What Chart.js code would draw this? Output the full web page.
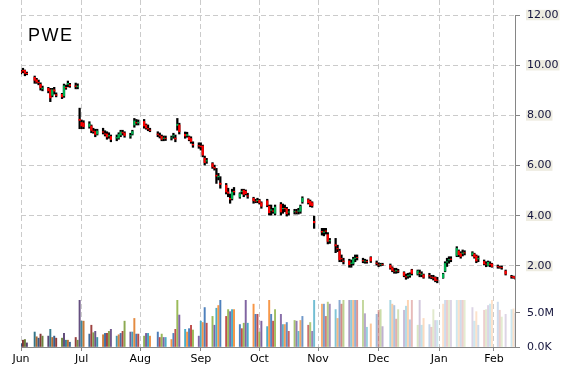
<!DOCTYPE html>
<html>
<head>
<meta charset="utf-8">
<script src="https://cdn.jsdelivr.net/npm/chart.js@4.4.0/dist/chart.umd.min.js"></script>
<style>
  html, body { margin: 0; padding: 0; background: #fff; }
</style>
</head>
<body>
<canvas id="stockChart" width="570" height="370"></canvas>
<script>
const ticker = 'PWE';

// month gridlines (day offsets from the first one)
const monthLabels = ['Jun', 'Jul', 'Aug', 'Sep', 'Oct', 'Nov', 'Dec', 'Jan', 'Feb'];
const monthDays = [0, 31, 61, 92, 122, 152, 183, 214, 242];

// trading days, one row per week
const days = [
    0, 1, 2, 3,
    7, 8, 9, 10, 11,
    14, 15, 16, 17, 18,
    21, 22, 23, 24, 25,
    28, 29, 30, 31, 32,
    35, 36, 37, 38, 39,
    42, 43, 44, 45, 46,
    49, 50, 51, 52, 53,
    56, 57, 58, 59, 60,
    63, 64, 65, 66,
    70, 71, 72, 73, 74,
    77, 78, 79, 80, 81,
    84, 85, 86, 87, 88,
    91, 92, 93, 94, 95,
    98, 99, 100, 101, 102,
    105, 106, 107, 108, 109,
    112, 113, 114, 115, 116,
    119, 120, 121, 122, 123,
    126, 127, 128, 129, 130,
    133, 134, 135, 136, 137,
    140, 141, 142, 143, 144,
    147, 148, 149, 150,
    154, 155, 156, 157, 158,
    161, 162, 163, 164, 165,
    168, 169, 170, 171, 172,
    175, 176, 177, 179,
    182, 183, 184, 185,
    189, 190, 191, 192, 193,
    196, 197, 198, 199, 200,
    203, 204, 205, 206,
    209, 210, 211, 212, 213,
    216, 217, 218, 219, 220,
    223, 224, 225, 226, 227,
    231, 232, 233, 234,
    237, 238, 239, 240, 241,
    244, 245, 246, 248,
    251, 252, 253
];

const open = [
    9.75, 9.80, 9.79, 9.68,
    9.52, 9.42, 9.32, 9.24, 9.06,
    9.08, 9.02, 8.80, 9.02, 8.83,
    8.84, 8.78, 9.12, 9.24, 9.22,
    9.18, 9.14, 7.85, 7.72, 7.70,
    7.56, 7.58, 7.38, 7.36, 7.26,
    7.35, 7.27, 7.26, 7.18, 7.16,
    7.10, 7.10, 7.22, 7.32, 7.30,
    7.18, 7.26, 7.62, 7.72, 7.70,
    7.76, 7.62, 7.48, 7.42,
    7.26, 7.20, 7.16, 7.08, 7.09,
    7.10, 7.18, 7.10, 7.60, 7.62,
    7.25, 7.20, 7.14, 7.08, 6.85,
    6.80, 6.78, 6.78, 6.30, 6.18,
    6.08, 5.93, 5.62, 5.55, 5.30,
    5.22, 4.95, 4.70, 4.68, 4.98,
    4.75, 4.96, 5.02, 4.98, 4.80,
    4.70, 4.59, 4.60, 4.62, 4.52,
    4.60, 4.38, 4.22, 4.20, 4.10,
    4.45, 4.28, 4.30, 4.28, 4.14,
    4.16, 4.16, 4.18, 4.18, 4.56,
    4.64, 4.58, 4.52, 3.78,
    3.38, 3.34, 3.40, 3.25, 3.00,
    2.85, 2.70, 2.60, 2.30, 2.20,
    2.20, 2.10, 2.10, 2.30, 2.34,
    2.22, 2.19, 2.18, 2.34,
    2.12, 2.05, 2.05, 2.06,
    2.03, 1.93, 1.80, 1.80, 1.80,
    1.74, 1.58, 1.60, 1.63, 1.84,
    1.68, 1.72, 1.66, 1.65,
    1.62, 1.56, 1.54, 1.54, 1.44,
    1.53, 1.80, 2.15, 2.24, 2.28,
    2.42, 2.60, 2.50, 2.50, 2.53,
    2.45, 2.48, 2.40, 2.28,
    2.18, 2.08, 2.02, 2.08, 2.08,
    1.98, 1.96, 1.94, 1.80,
    1.58, 1.58, 1.56
];

const high = [
    9.81, 9.88, 9.81, 9.73,
    9.57, 9.48, 9.41, 9.30, 9.17,
    9.12, 9.08, 9.08, 9.12, 8.90,
    8.88, 9.25, 9.21, 9.37, 9.28,
    9.29, 9.26, 8.29, 7.82, 7.79,
    7.75, 7.62, 7.49, 7.45, 7.45,
    7.49, 7.39, 7.35, 7.31, 7.22,
    7.22, 7.31, 7.41, 7.41, 7.35,
    7.29, 7.41, 7.88, 7.84, 7.82,
    7.84, 7.66, 7.62, 7.49,
    7.35, 7.30, 7.22, 7.18, 7.18,
    7.18, 7.29, 7.22, 7.88, 7.69,
    7.34, 7.33, 7.18, 7.15, 6.95,
    6.91, 6.91, 6.82, 6.38, 6.29,
    6.12, 6.02, 5.89, 5.69, 5.56,
    5.29, 5.10, 4.87, 5.06, 5.13,
    4.92, 5.06, 5.06, 5.03, 4.90,
    4.74, 4.66, 4.70, 4.66, 4.56,
    4.66, 4.43, 4.43, 4.30, 4.43,
    4.53, 4.47, 4.43, 4.34, 4.26,
    4.26, 4.26, 4.30, 4.43, 4.76,
    4.68, 4.63, 4.56, 3.99,
    3.50, 3.50, 3.50, 3.33, 3.10,
    3.10, 2.83, 2.67, 2.44, 2.31,
    2.27, 2.24, 2.35, 2.44, 2.44,
    2.31, 2.27, 2.24, 2.37,
    2.20, 2.13, 2.11, 2.11,
    2.08, 1.97, 1.91, 1.91, 1.87,
    1.77, 1.68, 1.71, 1.73, 1.87,
    1.84, 1.84, 1.77, 1.68,
    1.71, 1.63, 1.63, 1.57, 1.55,
    1.71, 2.17, 2.31, 2.37, 2.37,
    2.77, 2.64, 2.57, 2.64, 2.61,
    2.57, 2.51, 2.44, 2.40,
    2.24, 2.17, 2.20, 2.17, 2.11,
    2.04, 2.00, 2.00, 1.84,
    1.63, 1.60, 1.57
];

const low = [
    9.65, 9.70, 9.58, 9.62,
    9.28, 9.28, 9.22, 9.01, 8.98,
    8.90, 8.55, 8.74, 8.85, 8.74,
    8.67, 8.72, 9.04, 9.14, 9.12,
    9.06, 9.06, 7.47, 7.47, 7.47,
    7.49, 7.31, 7.29, 7.15, 7.22,
    7.26, 7.18, 7.05, 7.09, 6.95,
    6.99, 7.05, 7.15, 7.22, 7.13,
    7.09, 7.22, 7.53, 7.62, 7.62,
    7.49, 7.45, 7.39, 7.35,
    7.15, 7.10, 6.99, 6.99, 7.00,
    7.02, 7.09, 6.95, 7.41, 7.26,
    7.09, 7.13, 6.99, 6.89, 6.73,
    6.69, 6.62, 6.35, 6.02, 6.09,
    5.89, 5.82, 5.29, 5.43, 5.10,
    4.87, 4.76, 4.50, 4.63, 4.83,
    4.70, 4.87, 4.76, 4.83, 4.70,
    4.50, 4.52, 4.52, 4.47, 4.30,
    4.36, 4.03, 4.03, 4.10, 4.03,
    4.03, 4.10, 4.16, 3.99, 4.03,
    4.07, 4.07, 4.07, 4.10, 4.50,
    4.47, 4.36, 4.34, 3.50,
    3.23, 3.20, 3.27, 2.88, 2.90,
    2.53, 2.57, 2.17, 2.17, 2.08,
    1.95, 1.95, 2.04, 2.17, 2.24,
    2.13, 2.11, 2.11, 2.14,
    2.04, 1.97, 2.00, 2.02,
    1.87, 1.77, 1.71, 1.71, 1.73,
    1.57, 1.47, 1.51, 1.55, 1.64,
    1.64, 1.57, 1.57, 1.51,
    1.51, 1.49, 1.44, 1.37, 1.33,
    1.51, 1.77, 1.98, 2.11, 2.17,
    2.37, 2.37, 2.31, 2.40, 2.44,
    2.40, 2.31, 2.13, 2.17,
    2.04, 1.97, 2.00, 1.97, 1.95,
    1.91, 1.91, 1.87, 1.64,
    1.51, 1.51, 1.48
];

const close = [
    9.71, 9.77, 9.68, 9.66,
    9.40, 9.33, 9.30, 9.10, 9.09,
    8.98, 8.70, 9.02, 8.97, 8.80,
    8.74, 9.18, 9.10, 9.28, 9.18,
    9.15, 9.17, 7.80, 7.58, 7.55,
    7.66, 7.40, 7.36, 7.24, 7.38,
    7.33, 7.25, 7.14, 7.20, 7.04,
    7.12, 7.24, 7.34, 7.30, 7.20,
    7.20, 7.36, 7.78, 7.70, 7.73,
    7.58, 7.50, 7.46, 7.40,
    7.24, 7.18, 7.05, 7.10, 7.08,
    7.11, 7.20, 7.06, 7.65, 7.35,
    7.18, 7.24, 7.03, 6.96, 6.82,
    6.78, 6.75, 6.42, 6.12, 6.20,
    5.95, 5.90, 5.58, 5.58, 5.25,
    4.95, 4.90, 4.66, 4.95, 4.95,
    4.88, 4.98, 4.85, 4.88, 4.78,
    4.60, 4.58, 4.62, 4.52, 4.38,
    4.42, 4.12, 4.24, 4.18, 4.35,
    4.15, 4.30, 4.28, 4.08, 4.16,
    4.17, 4.15, 4.20, 4.38, 4.70,
    4.52, 4.42, 4.40, 3.72,
    3.35, 3.36, 3.38, 2.98, 3.02,
    2.80, 2.68, 2.25, 2.28, 2.18,
    2.05, 2.12, 2.28, 2.32, 2.33,
    2.20, 2.20, 2.17, 2.20,
    2.10, 2.04, 2.06, 2.05,
    1.92, 1.82, 1.79, 1.82, 1.79,
    1.62, 1.56, 1.62, 1.65, 1.70,
    1.80, 1.70, 1.68, 1.55,
    1.60, 1.55, 1.52, 1.42, 1.43,
    1.68, 2.10, 2.17, 2.26, 2.26,
    2.70, 2.45, 2.38, 2.52, 2.52,
    2.52, 2.36, 2.20, 2.30,
    2.08, 2.07, 2.15, 2.06, 1.98,
    1.97, 1.95, 1.93, 1.68,
    1.57, 1.53, 1.50
];

// volume in millions of shares
const volume = [
    0.5, 1.0, 1.1, 0.6,
    2.2, 1.5, 1.3, 1.9, 1.6,
    1.6, 2.6, 1.4, 1.6, 1.3,
    1.3, 2.0, 1.0, 1.0, 0.7,
    1.4, 1.0, 6.9, 3.8, 3.8,
    1.9, 3.2, 2.1, 2.3, 1.4,
    1.8, 2.0, 2.0, 2.3, 2.6,
    1.6, 1.8, 2.0, 2.3, 3.8,
    2.2, 2.2, 4.2, 1.9, 1.9,
    1.6, 2.0, 2.0, 1.6,
    2.2, 1.4, 1.9, 1.4, 1.4,
    1.1, 2.0, 2.6, 6.9, 4.7,
    2.6, 2.2, 2.7, 3.2, 2.5,
    1.6, 3.8, 3.6, 5.8, 3.5,
    4.5, 3.2, 5.7, 6.1, 6.9,
    4.5, 5.5, 5.2, 5.5, 5.5,
    3.3, 2.7, 3.5, 6.9, 3.5,
    6.3, 4.8, 4.8, 2.2, 3.8,
    3.0, 6.9, 4.8, 3.8, 5.5,
    4.8, 3.3, 3.3, 3.6, 2.3,
    3.9, 3.8, 2.3, 3.9, 4.5,
    3.2, 3.6, 2.3, 6.9,
    6.3, 6.3, 4.5, 6.6, 6.3,
    5.5, 4.2, 6.9, 6.3, 6.9,
    6.9, 6.9, 6.9, 6.9, 6.9,
    6.9, 4.9, 2.9, 3.4,
    4.8, 5.4, 5.5, 3.0,
    6.9, 6.3, 6.1, 4.1, 5.5,
    5.4, 6.0, 6.9, 4.0, 6.9,
    3.2, 6.9, 3.2, 4.2,
    3.3, 2.9, 5.5, 3.9, 3.9,
    6.3, 6.9, 6.9, 6.9, 6.9,
    6.9, 6.9, 6.9, 6.9, 6.9,
    5.8, 3.8, 5.2, 3.2,
    5.4, 5.5, 6.1, 6.3, 6.9,
    6.6, 5.4, 4.4, 4.8,
    5.5, 5.6, 5.0
];

// volume bars cycle through the office palette, darker early on, fading towards the end
const palette = ['#4F81BD', '#C0504D', '#9BBB59', '#8064A2', '#4BACC6', '#F79646'];
const volumeColors = volume.map((v, i) => {
    const t = i / (volume.length - 1);
    const hex = palette[i % palette.length];
    const dark = t < 0.3 ? (0.3 - t) / 0.3 * 0.35 : 0;
    const alpha = t > 0.5 ? 1 - Math.min(1, (t - 0.5) / 0.35) * 0.72 : 1;
    const ch = [1, 3, 5].map(k => Math.round(parseInt(hex.substr(k, 2), 16) * (1 - dark)));
    return `rgba(${ch[0]}, ${ch[1]}, ${ch[2]}, ${alpha.toFixed(2)})`;
});

const axisGrey = '#868686';
const gridGrey = '#CBCBCB';

const extraDraw = {
    id: 'extraDraw',
    afterDraw(chart) {
        const {ctx, chartArea, scales} = chart;
        ctx.save();
        // right axis line starts at the 12.00 tick
        const x = Math.round(chartArea.right) - 0.5;
        ctx.strokeStyle = axisGrey;
        ctx.lineWidth = 1;
        ctx.beginPath();
        ctx.moveTo(x, Math.round(scales.y.getPixelForValue(12)));
        ctx.lineTo(x, chartArea.bottom);
        ctx.stroke();
        // ticker label
        ctx.fillStyle = '#000';
        ctx.font = '18px "Liberation Sans"';
        ctx.letterSpacing = '1.5px';
        ctx.textBaseline = 'alphabetic';
        ctx.fillText(ticker, 28, 41);
        ctx.restore();
    }
};

// right axes: fixed width, no extra label padding so the stack fills the full height
const fitRight = s => {
    s.width = 54;
    s.paddingTop = 0;
    s.paddingBottom = 0;
};

Chart.defaults.font.family = '"DejaVu Sans"';

new Chart(document.getElementById('stockChart'), {
    type: 'bar',
    data: {
        datasets: [
            {
                label: 'Body',
                data: days.map((d, i) => ({x: d, y: [Math.min(open[i], close[i]), Math.max(open[i], close[i])]})),
                backgroundColor: days.map((d, i) => close[i] >= open[i] ? '#00B050' : '#FF0000'),
                barThickness: 1.6,
                yAxisID: 'y',
                order: 1
            },
            {
                label: 'Range',
                data: days.map((d, i) => ({x: d, y: [low[i], high[i]]})),
                backgroundColor: '#000000',
                barThickness: 1.6,
                yAxisID: 'y',
                order: 2
            },
            {
                label: 'Volume',
                data: days.map((d, i) => ({x: d, y: volume[i]})),
                backgroundColor: volumeColors,
                barThickness: 1.3,
                yAxisID: 'yv',
                order: 3
            }
        ]
    },
    options: {
        responsive: false,
        devicePixelRatio: 1,
        animation: false,
        layout: { padding: { left: 21, top: 0, right: 0, bottom: 0 } },
        datasets: { bar: { grouped: false } },
        plugins: {
            legend: { display: false },
            tooltip: { enabled: false }
        },
        scales: {
            x: {
                type: 'linear',
                min: 0,
                max: 253.3,
                offset: false,
                afterFit: s => { s.height = 23; },
                afterBuildTicks: s => { s.ticks = monthDays.map(v => ({value: v})); },
                grid: {
                    offset: false,
                    color: gridGrey,
                    tickColor: axisGrey,
                    tickLength: 4
                },
                border: { display: true, color: axisGrey, dash: [5, 3] },
                ticks: {
                    autoSkip: false,
                    maxRotation: 0,
                    padding: 2,
                    color: '#000',
                    font: { size: 11 },
                    callback: v => monthLabels[monthDays.indexOf(v)]
                }
            },
            y: {
                position: 'right',
                stack: 'right',
                stackWeight: 300,
                min: 0.645,
                max: 12.6,
                afterFit: fitRight,
                grid: {
                    color: gridGrey,
                    tickColor: axisGrey,
                    tickLength: 4
                },
                border: { display: false, dash: [5, 3] },
                ticks: {
                    stepSize: 2,
                    includeBounds: false,
                    padding: 7,
                    color: '#14143c',
                    font: { size: 11, lineHeight: 0.95 },
                    showLabelBackdrop: true,
                    backdropColor: '#EEECE1',
                    backdropPadding: { x: 1, y: 0 },
                    callback: v => v.toFixed(2)
                }
            },
            yv: {
                position: 'right',
                stack: 'right',
                stackWeight: 47,
                min: 0,
                max: 6.91,
                afterFit: fitRight,
                grid: {
                    drawOnChartArea: false,
                    tickColor: axisGrey,
                    tickLength: 4
                },
                border: { display: false },
                ticks: {
                    stepSize: 5,
                    includeBounds: false,
                    padding: 7,
                    color: '#14143c',
                    font: { size: 11 },
                    callback: v => v === 0 ? '0.0K' : v.toFixed(1) + 'M'
                }
            }
        }
    },
    plugins: [extraDraw]
});
</script>
</body>
</html>
